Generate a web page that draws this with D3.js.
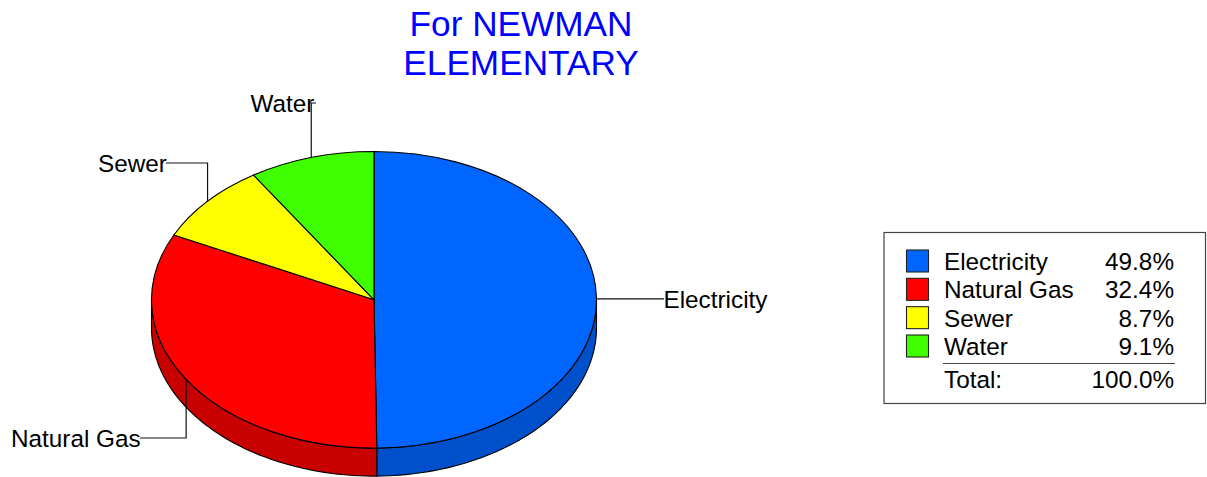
<!DOCTYPE html>
<html><head><meta charset="utf-8">
<script src="https://cdn.jsdelivr.net/npm/d3@7"></script>
<style>html,body{margin:0;padding:0;background:#fff}svg{display:block}text{font-family:"Liberation Sans",Arial,sans-serif;fill:#000}</style>
</head><body><svg id="c" width="1207" height="477"></svg>
<script>
const titleLines = ["For NEWMAN", "ELEMENTARY"];
const categories = ["Electricity", "Natural Gas", "Sewer", "Water"];
const shares = [49.8, 32.4, 8.7, 9.1];
const topColors = ["#0066FF", "#FF0000", "#FFFF00", "#40FF00"];
const sideColors = ["#0050CC", "#C80000", "#CCCC00", "#33CC00"];
const totalLabel = "Total:";
const totalValue = 100.0;

const cx = 374, cy = 299.8, rx = 222.5, ry = 148.3, depth = 28;
const svg = d3.select("#c");
const fmt = d3.format(".1f");
const pie = d3.pie().sort(null).value(d => d.v).startAngle(0).endAngle(2 * Math.PI);
const arcs = pie(categories.map((c, i) => ({ c, v: shares[i], i })));
const px = a => cx + rx * Math.sin(a), py = a => cy - ry * Math.cos(a);
const fs = 24.3;

// title
svg.selectAll("text.title").data(titleLines).join("text").attr("class", "title")
  .attr("x", 521).attr("y", (d, i) => 36 + i * 39).attr("text-anchor", "middle")
  .attr("font-size", 35.2).style("fill", "#0000FF").text(d => d);

// side wall (front half only)
const line = d3.line();
const sideG = svg.append("g");
arcs.forEach(d => {
  const a0 = Math.max(d.startAngle, Math.PI / 2), a1 = Math.min(d.endAngle, 3 * Math.PI / 2);
  if (a1 <= a0) return;
  const t = d3.scaleLinear().domain([0, 60]).range([a0, a1]);
  const as = d3.range(61).map(t);
  const pts = as.map(a => [px(a), py(a)]).concat(as.slice().reverse().map(a => [px(a), py(a) + depth]));
  sideG.append("path").attr("d", line(pts) + "Z").attr("fill", sideColors[d.data.i])
    .attr("stroke", "#000").attr("stroke-width", 1.1).attr("stroke-linejoin", "round");
});

// top face
const arc = d3.arc().innerRadius(0).outerRadius(rx);
svg.append("g").attr("transform", `translate(${cx},${cy}) scale(1,${ry / rx})`)
  .selectAll("path").data(arcs).join("path")
  .attr("d", arc).attr("fill", d => topColors[d.data.i])
  .attr("stroke", "#000").attr("stroke-width", 1.1).attr("vector-effect", "non-scaling-stroke");

// leaders + labels
const leaders = [
  { i: 0, end: 664, ly: null, tx: 663.5, ty: 308 },
  { i: 1, end: 140, ly: 438, tx: 11, ty: 447 },
  { i: 2, end: 166, ly: 163, tx: 98, ty: 172 },
  { i: 3, end: 316, ly: 103, tx: 250.5, ty: 111.5 }
];
const lg = svg.append("g");
leaders.forEach(l => {
  const d = arcs[l.i], m = (d.startAngle + d.endAngle) / 2;
  const x = px(m), y = py(m);
  const pts = l.ly === null ? [[x, y], [l.end, y]] : [[x, y], [x, l.ly], [l.end, l.ly]];
  lg.append("path").attr("d", line(pts)).attr("fill", "none").attr("stroke", "#111").attr("stroke-width", 1.2);
  lg.append("text").attr("x", l.tx).attr("y", l.ty).attr("font-size", fs).text(categories[l.i]);
});

// legend
const L = svg.append("g");
L.append("rect").attr("x", 884).attr("y", 232.5).attr("width", 321.5).attr("height", 171)
  .attr("fill", "#fff").attr("stroke", "#444").attr("stroke-width", 1.2);
const rowY = d3.scalePoint().domain(categories).range([270, 355]);
const rows = L.selectAll("g.r").data(categories).join("g").attr("class", "r");
rows.append("rect").attr("x", 906.5).attr("y", d => rowY(d) - 20).attr("width", 22).attr("height", 22)
  .attr("fill", (d, i) => topColors[i]).attr("stroke", "#222").attr("stroke-width", 1.1);
rows.append("text").attr("x", 944).attr("y", d => rowY(d)).attr("font-size", fs).text(d => d);
rows.append("text").attr("x", 1174).attr("y", d => rowY(d)).attr("font-size", fs).attr("text-anchor", "end")
  .text((d, i) => fmt(shares[i]) + "%");
L.append("line").attr("x1", 943).attr("x2", 1175).attr("y1", 363.5).attr("y2", 363.5).attr("stroke", "#444").attr("stroke-width", 1.1);
L.append("text").attr("x", 944).attr("y", 388).attr("font-size", fs).text(totalLabel);
L.append("text").attr("x", 1174).attr("y", 388).attr("font-size", fs).attr("text-anchor", "end").text(fmt(totalValue) + "%");
</script></body></html>
